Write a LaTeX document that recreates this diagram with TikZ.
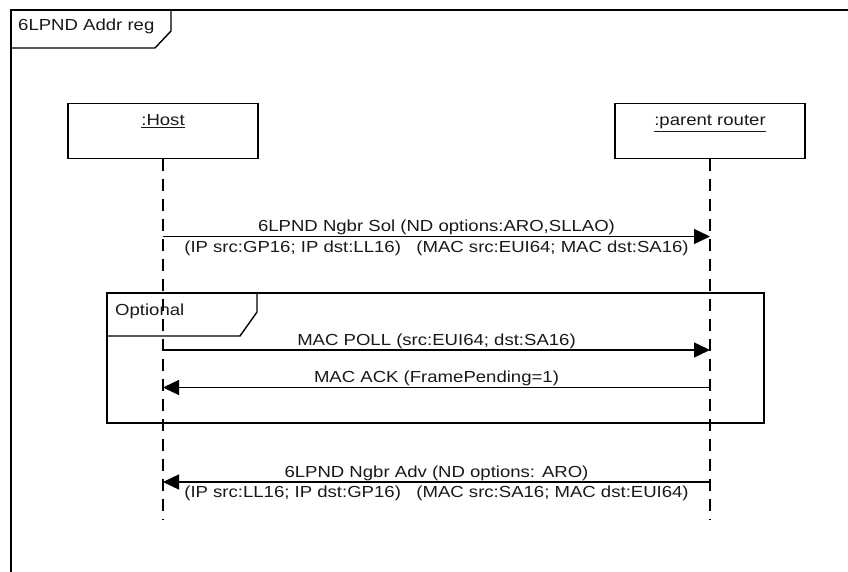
\documentclass[tikz,border=0pt]{standalone}
\usepackage{fontspec}
\setmainfont[FakeStretch=1.16]{Liberation Sans}
\usetikzlibrary{arrows.meta}
\begin{document}
\begin{tikzpicture}[x=1pt,y=-1pt,
  ln/.style={line width=1.4pt},
  lifebox/.style={draw, line width=1.4pt, minimum width=190pt, minimum height=55pt, inner sep=0pt},
  life/.style={line width=1.2pt, dash pattern=on 12pt off 8pt},
  msg/.style={line width=1.4pt, -{Triangle[length=16pt,width=15pt]}},
  lbl/.style={font=\fontsize{16pt}{19pt}\selectfont, inner sep=0pt, anchor=base, text=black!90},
]
\useasboundingbox (0,0) rectangle (848,572);
% outer frame
\draw[ln] (11,574) -- (11,10) -- (850,10);
\draw[ln] (11,48) -- (155,48) -- (171,31) -- (171,10);
\node[lbl, anchor=base west] (title) at (18,31) {6LPND Addr reg};
% lifeline heads
\node[lifebox] (host) at (163,131) {};
\node[lbl] (hostlbl) at (163,126) {\underline{:Host}};
\node[lifebox] (router) at (710,131) {};
\node[lbl] (routerlbl) at (710,126) {\underline{:parent router}};
% lifelines
\coordinate (hostEnd) at (163,520);
\coordinate (routerEnd) at (710,520);
\draw[life] (host.south) -- (hostEnd);
\draw[life] (router.south) -- (routerEnd);
% optional fragment
\draw[ln] (107,293) rectangle (764,423);
\draw[ln] (107,336) -- (240,336) -- (257,312) -- (257,293);
\node[lbl, anchor=base west] (opt) at (115,315) {Optional};
% message 1
\coordinate (h1) at (163,236.5);
\coordinate (r1) at (710,236.5);
\draw[msg] (h1) -- (r1);
\node[lbl] (m1a) at (436.5,231.5) {6LPND Ngbr Sol (ND options:ARO,SLLAO)};
\node[lbl] (m1b) at (436.5,252) {(IP src:GP16; IP dst:LL16)\ \ \ (MAC src:EUI64; MAC dst:SA16)};
% message 2
\coordinate (h2) at (163,350);
\coordinate (r2) at (710,350);
\draw[msg] (h2) -- (r2);
\node[lbl] (m2) at (436.5,345) {MAC POLL (src:EUI64; dst:SA16)};
% message 3
\coordinate (h3) at (163,387.5);
\coordinate (r3) at (710,387.5);
\draw[msg] (r3) -- (h3);
\node[lbl] (m3) at (436.5,382.5) {MAC ACK (FramePending=1)};
% message 4
\coordinate (h4) at (163,482);
\coordinate (r4) at (710,482);
\draw[msg] (r4) -- (h4);
\node[lbl] (m4a) at (436.5,477) {6LPND Ngbr Adv (ND options: ARO)};
\node[lbl] (m4b) at (436.5,497.5) {(IP src:LL16; IP dst:GP16)\ \ \ (MAC src:SA16; MAC dst:EUI64)};
\end{tikzpicture}
\end{document}
